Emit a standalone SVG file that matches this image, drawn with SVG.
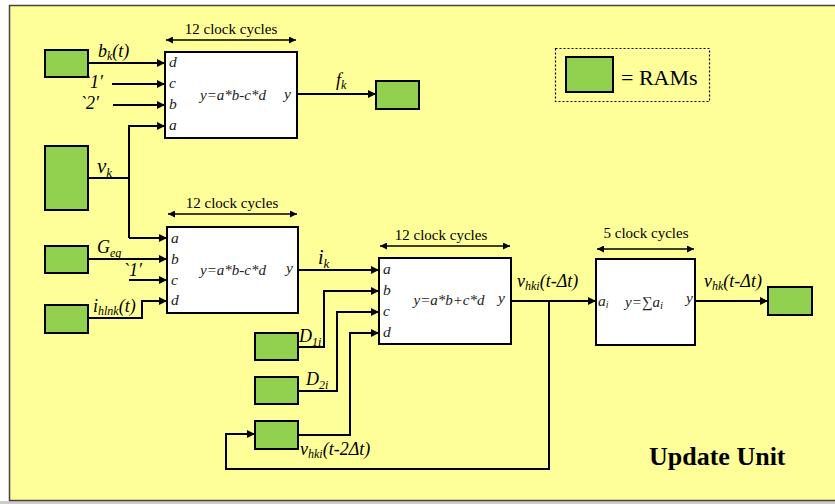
<svg xmlns="http://www.w3.org/2000/svg" width="835" height="504" viewBox="0 0 835 504">
<defs>
<marker id="ah" viewBox="0 0 10 10" refX="10" refY="5" markerWidth="10" markerHeight="8" markerUnits="userSpaceOnUse" orient="auto"><path d="M0,0 L10,5 L0,10 z" fill="#000"/></marker>
<marker id="sh" viewBox="0 0 10 10" refX="10" refY="5" markerWidth="8" markerHeight="7" markerUnits="userSpaceOnUse" orient="auto-start-reverse"><path d="M0,0 L10,5 L0,10 z" fill="#000"/></marker>
</defs>
<style>
.ram{fill:#92D050;stroke:#000;stroke-width:2}
.blk{fill:#fff;stroke:#000;stroke-width:2}
.w{fill:none;stroke:#000;stroke-width:2}
.dur{fill:none;stroke:#000;stroke-width:1.3}
text{font-family:"Liberation Serif","Times New Roman",serif;fill:#000}
.cc{font-size:15px}
.it{font-style:italic}
.p{font-style:italic;font-size:15.5px;fill:#222}
.f{font-style:italic;font-size:15px;fill:#222}
.lb{font-style:italic;font-size:18px}
.sb{font-size:12px}
</style>
<rect x="0" y="0" width="835" height="504" fill="#fff"/>
<rect x="0" y="501" width="835" height="3" fill="#ccc"/>
<rect x="9.5" y="5.5" width="830" height="495" fill="#FFFF99" stroke="#444" stroke-width="1.5"/>

<g id="legend">
<rect x="555.5" y="48.5" width="154" height="53" fill="none" stroke="#000" stroke-width="1.2" stroke-dasharray="2,2"/>
<rect class="ram" x="566" y="57" width="47" height="35"/>
<text x="621" y="85" font-size="22">= RAMs</text>
</g>

<g id="ram-bk"><rect class="ram" x="45" y="50" width="43" height="27"/></g>
<g id="ram-vk"><rect class="ram" x="45" y="146" width="43" height="64"/></g>
<g id="ram-geq"><rect class="ram" x="45" y="246" width="43" height="27"/></g>
<g id="ram-ihlnk"><rect class="ram" x="45" y="305" width="43" height="28"/></g>
<g id="ram-fk"><rect class="ram" x="376" y="81" width="43" height="28"/></g>
<g id="ram-d1i"><rect class="ram" x="255" y="333" width="43" height="27"/></g>
<g id="ram-d2i"><rect class="ram" x="255" y="377" width="43" height="27"/></g>
<g id="ram-vhki2"><rect class="ram" x="255" y="421" width="43" height="28"/></g>
<g id="ram-vhk"><rect class="ram" x="768" y="287" width="44" height="28"/></g>

<g id="block1">
<text class="cc" x="231" y="34" text-anchor="middle">12 clock cycles</text>
<line class="dur" x1="166" y1="40" x2="296" y2="40" marker-start="url(#sh)" marker-end="url(#sh)"/>
<rect class="blk" x="165" y="52" width="132" height="86"/>
<text class="p" x="169" y="67">d</text>
<text class="p" x="169" y="88">c</text>
<text class="p" x="169" y="109">b</text>
<text class="p" x="169" y="130">a</text>
<text class="f" x="233" y="100" text-anchor="middle">y=a*b-c*d</text>
<text class="p" x="284" y="99">y</text>
</g>

<g id="block2">
<text class="cc" x="232" y="208" text-anchor="middle">12 clock cycles</text>
<line class="dur" x1="168" y1="214" x2="297" y2="214" marker-start="url(#sh)" marker-end="url(#sh)"/>
<rect class="blk" x="167" y="227" width="131" height="86"/>
<text class="p" x="171" y="243">a</text>
<text class="p" x="171" y="264">b</text>
<text class="p" x="171" y="285">c</text>
<text class="p" x="171" y="305">d</text>
<text class="f" x="233" y="275" text-anchor="middle">y=a*b-c*d</text>
<text class="p" x="286" y="273">y</text>
</g>

<g id="block3">
<text class="cc" x="441" y="240" text-anchor="middle">12 clock cycles</text>
<line class="dur" x1="380" y1="246" x2="510" y2="246" marker-start="url(#sh)" marker-end="url(#sh)"/>
<rect class="blk" x="379" y="258" width="132" height="86"/>
<text class="p" x="383" y="274">a</text>
<text class="p" x="383" y="295">b</text>
<text class="p" x="383" y="316">c</text>
<text class="p" x="383" y="337">d</text>
<text class="f" x="449" y="305" text-anchor="middle">y=a*b+c*d</text>
<text class="p" x="498" y="303">y</text>
</g>

<g id="block4">
<text class="cc" x="646" y="238" text-anchor="middle">5 clock cycles</text>
<line class="dur" x1="597" y1="249" x2="694" y2="249" marker-start="url(#sh)" marker-end="url(#sh)"/>
<rect class="blk" x="596" y="259" width="99" height="86"/>
<text class="p" x="598" y="306">a<tspan font-size="10px" dy="2">i</tspan></text>
<text class="f" x="625" y="307">y=∑a<tspan font-size="11px" dy="2">i</tspan></text>
<text class="p" x="686" y="303">y</text>
</g>

<g id="connectors">
<line class="w" x1="88" y1="63" x2="165" y2="63" marker-end="url(#ah)"/>
<line class="w" x1="112" y1="84" x2="165" y2="84" marker-end="url(#ah)"/>
<line class="w" x1="113" y1="105" x2="165" y2="105" marker-end="url(#ah)"/>
<polyline class="w" points="129,238 129,126 165,126" marker-end="url(#ah)"/>
<line class="w" x1="88" y1="178" x2="129" y2="178"/>
<line class="w" x1="129" y1="238" x2="167" y2="238" marker-end="url(#ah)"/>
<line class="w" x1="88" y1="259" x2="167" y2="259" marker-end="url(#ah)"/>
<line class="w" x1="129" y1="280" x2="167" y2="280" marker-end="url(#ah)"/>
<polyline class="w" points="88,318 142,318 142,301 167,301" marker-end="url(#ah)"/>
<line class="w" x1="297" y1="94" x2="376" y2="94" marker-end="url(#ah)"/>
<line class="w" x1="298" y1="270" x2="379" y2="270" marker-end="url(#ah)"/>
<polyline class="w" points="298,347 324,347 324,291 379,291" marker-end="url(#ah)"/>
<polyline class="w" points="298,391 337,391 337,312 379,312" marker-end="url(#ah)"/>
<polyline class="w" points="298,435 350,435 350,333 379,333" marker-end="url(#ah)"/>
<line class="w" x1="511" y1="301" x2="596" y2="301" marker-end="url(#ah)"/>
<polyline class="w" points="549,301 549,469 226,469 226,434 255,434" marker-end="url(#ah)"/>
<line class="w" x1="695" y1="301" x2="768" y2="301" marker-end="url(#ah)"/>
</g>

<g id="labels">
<text class="lb" x="98" y="57">b<tspan font-size="12px" dy="3">k</tspan><tspan dy="-3">(t)</tspan></text>
<text class="lb" x="84" y="88">`1′</text>
<text class="lb" x="80" y="109">`2′</text>
<text class="it" font-size="21px" x="97" y="173">v<tspan font-size="13px" dy="4">k</tspan></text>
<text class="lb" x="97" y="253">G<tspan font-size="12px" dy="4">eq</tspan></text>
<text class="lb" x="123" y="276">`1′</text>
<text class="lb" x="93" y="312">i<tspan font-size="12px" dy="3">hlnk</tspan><tspan dy="-3">(t)</tspan></text>
<text class="lb" x="336" y="86">f<tspan font-size="12px" dy="3">k</tspan></text>
<text class="it" font-size="20px" x="318" y="264">i<tspan font-size="13px" dy="4">k</tspan></text>
<text class="lb" x="299" y="342">D<tspan font-size="12px" dy="4">1i</tspan></text>
<text class="lb" x="306" y="385">D<tspan font-size="12px" dy="4">2i</tspan></text>
<text class="lb" x="300" y="455">v<tspan font-size="12px" dy="3">hki</tspan><tspan dy="-3">(t-2Δt)</tspan></text>
<text class="lb" x="517" y="287">v<tspan font-size="12px" dy="3">hki</tspan><tspan dy="-3">(t-Δt)</tspan></text>
<text class="lb" x="704" y="287">v<tspan font-size="12px" dy="3">hk</tspan><tspan dy="-3">(t-Δt)</tspan></text>
<text x="649" y="465" font-size="26px" font-weight="bold">Update Unit</text>
</g>
</svg>
